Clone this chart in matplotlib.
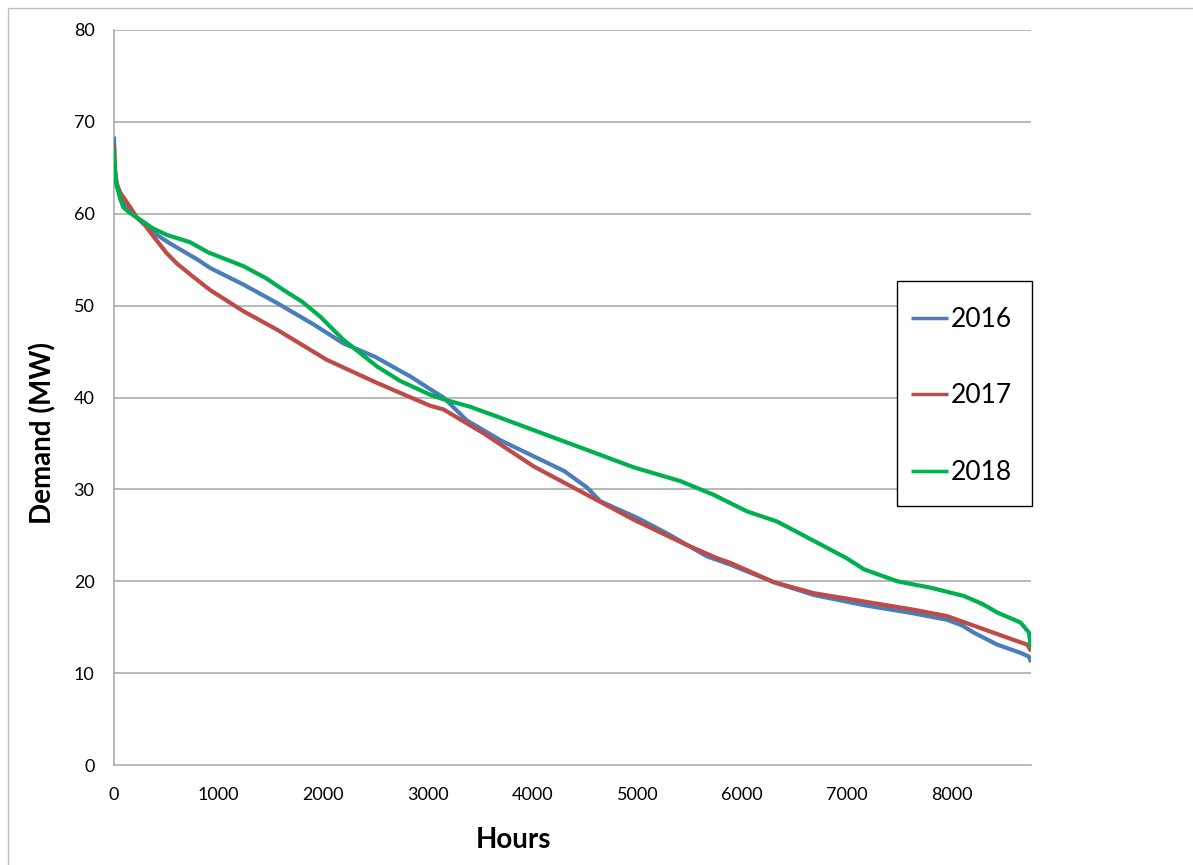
"""Load duration curves 2016-2018, Excel-style line chart."""

import matplotlib
matplotlib.use("Agg")
import matplotlib.pyplot as plt
from matplotlib.patches import Rectangle

# ---- data (hours, MW) -------------------------------------------------------
hours_2016 = [0, 5, 12, 25, 60, 100, 217, 300, 373, 450, 530, 650, 800, 918,
              1235, 1555, 1900, 2190, 2500, 2734, 2830, 3021, 3148, 3371, 3700,
              4009, 4300, 4519, 4646, 5000, 5284, 5666, 5889, 6303, 6686, 7164,
              7641, 7960, 8100, 8215, 8438, 8661, 8740, 8760]
demand_2016 = [68.4, 66.0, 64.6, 63.4, 61.9, 61.0, 59.6, 58.9, 58.0, 57.4, 56.8,
               56.0, 55.0, 54.1, 52.3, 50.3, 48.0, 45.9, 44.4, 42.9, 42.3, 40.9,
               40.0, 37.5, 35.3, 33.6, 32.0, 30.2, 28.7, 26.9, 25.2, 22.7, 21.8,
               19.9, 18.5, 17.4, 16.5, 15.8, 15.2, 14.4, 13.1, 12.2, 11.8, 11.2]

hours_2017 = [0, 5, 12, 25, 60, 89, 150, 217, 300, 373, 504, 599, 750, 918,
              1235, 1555, 2033, 2510, 2734, 3021, 3148, 3531, 4009, 4487, 4965,
              5443, 5762, 5889, 6303, 6686, 7164, 7641, 7960, 8279, 8598, 8725,
              8760]
demand_2017 = [67.5, 65.5, 64.2, 63.2, 62.3, 61.8, 60.8, 59.6, 58.7, 57.6, 55.7,
               54.6, 53.2, 51.7, 49.4, 47.4, 44.1, 41.6, 40.5, 39.1, 38.7, 36.1,
               32.5, 29.6, 26.7, 24.1, 22.5, 22.0, 19.9, 18.7, 17.8, 16.9, 16.2,
               14.9, 13.6, 13.1, 12.4]

hours_2018 = [0, 5, 12, 25, 60, 89, 150, 217, 373, 504, 727, 900, 1235, 1450,
              1620, 1800, 1970, 2190, 2510, 2734, 3021, 3148, 3400, 3690, 4328,
              4965, 5411, 5730, 6048, 6335, 6718, 7000, 7164, 7482, 7800, 8119,
              8300, 8438, 8661, 8741, 8760]
demand_2018 = [67.1, 65.2, 64.0, 63.1, 61.6, 60.7, 60.1, 59.6, 58.4, 57.7, 56.9,
               55.8, 54.3, 53.0, 51.7, 50.4, 48.8, 46.3, 43.4, 41.8, 40.3, 39.8,
               39.0, 37.8, 35.1, 32.4, 30.9, 29.4, 27.6, 26.5, 24.2, 22.5, 21.3,
               20.0, 19.3, 18.4, 17.5, 16.6, 15.5, 14.4, 12.7]

series = {
    "2016": (hours_2016, demand_2016, "#4A7EBB"),
    "2017": (hours_2017, demand_2017, "#BE4B48"),
    "2018": (hours_2018, demand_2018, "#00B050"),
}

x_ticks = [0, 1000, 2000, 3000, 4000, 5000, 6000, 7000, 8000]
y_ticks = [0, 10, 20, 30, 40, 50, 60, 70, 80]

# ---- figure -------------------------------------------------------------------
plt.rcParams["font.family"] = ["Lato", "DejaVu Sans"]

W, H = 1193, 865
fig = plt.figure(figsize=(W / 100, H / 100), dpi=100)
ax = fig.add_axes([114 / W, 1 - 765 / H, 917 / W, 735 / H])

# outer chart-area border (cut off at right and bottom, as in the reference)
fig.patches.append(Rectangle((8 / W, -0.02), 1.05, 1 - 8 / H + 0.02,
                             transform=fig.transFigure, fill=False,
                             edgecolor="#BFBFBF", lw=1.0))

grid_c = "#A6A6A6"
for y in y_ticks[1:]:
    ax.axhline(y, color=grid_c, lw=1.1, zorder=1)

handles = []
for label, (hx, hy, c) in series.items():
    (ln,) = ax.plot(hx, hy, color=c, lw=3.0, label=label, zorder=3,
                    solid_joinstyle="round", solid_capstyle="butt")
    handles.append(ln)

ax.set_xlim(0, 8760)
ax.set_ylim(0, 80)
ax.set_xticks(x_ticks)
ax.set_yticks(y_ticks)
ax.tick_params(length=0, labelsize=13, colors="black")
ax.tick_params(axis="x", pad=16)
ax.tick_params(axis="y", pad=14)

for side in ("top", "right"):
    ax.spines[side].set_visible(False)
for side in ("left", "bottom"):
    ax.spines[side].set_color(grid_c)
    ax.spines[side].set_linewidth(1.1)

ax.set_xlabel("Hours", fontsize=20, fontweight="bold")
ax.xaxis.label.set_va("center")
ax.xaxis.set_label_coords((513 - 114) / 917, (765 - 840) / 735)
ax.set_ylabel("Demand (MW)", fontsize=20, fontweight="bold")
ax.yaxis.label.set_va("center")
ax.yaxis.set_label_coords((43 - 114) / 917, (765 - 433) / 735)

# legend box drawn separately so its padding can match the reference
box = Rectangle(((897 - 114) / 917, (765 - 506) / 735), 135 / 917, 225 / 735,
                transform=ax.transAxes, facecolor="white", edgecolor="black",
                lw=1.0, zorder=4, clip_on=False)
ax.add_patch(box)
leg = ax.legend(handles=handles, loc="center left", frameon=False,
                bbox_to_anchor=((911 - 114) / 917, (765 - 396) / 735),
                fontsize=19, handlelength=1.4, handletextpad=0.1,
                labelspacing=1.95, borderpad=0, borderaxespad=0)
leg.set_zorder(5)
for lh in leg.get_lines():
    lh.set_linewidth(2.5)

fig.savefig("out.png", dpi=100)
